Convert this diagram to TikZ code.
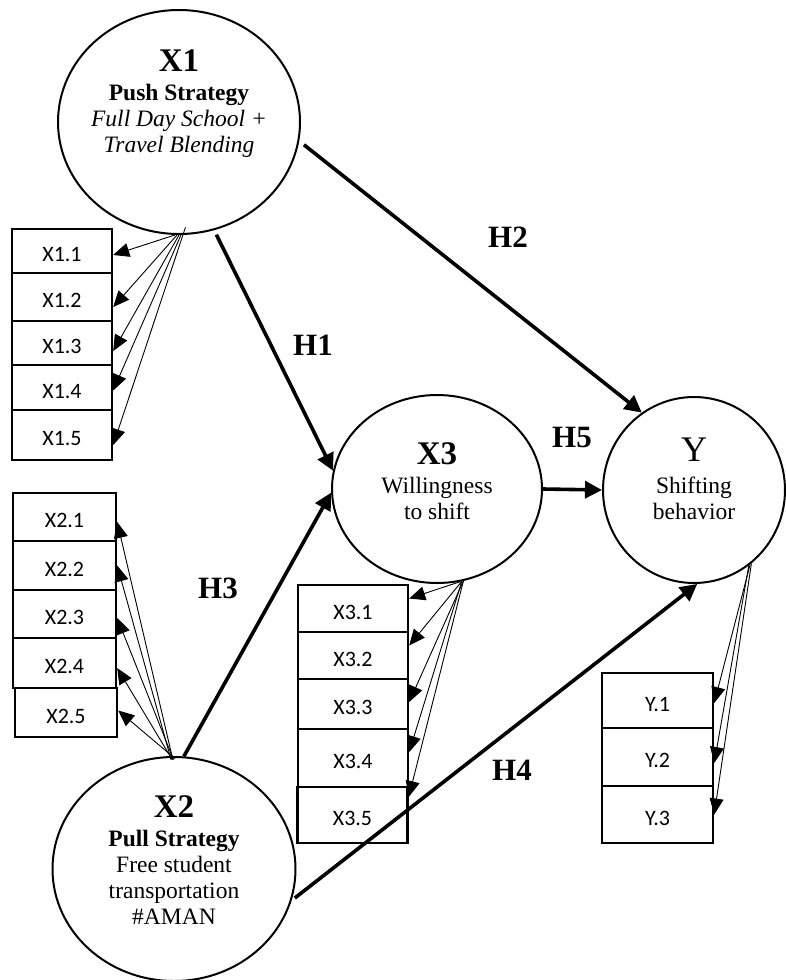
\documentclass[tikz,border=0pt]{standalone}
\usepackage{fontspec}
\setmainfont{Liberation Serif}
\newfontfamily\boxfont{Carlito}
\usetikzlibrary{shapes.geometric}
\usetikzlibrary{arrows.meta}
\tikzset{>={Triangle[width=17pt,length=17pt]}}
\tikzset{
  latent/.style={draw, ellipse, line width=2pt, inner sep=0pt},
  caption/.style={align=center, anchor=north, inner sep=0pt, font=\fontsize{23.5}{26}\selectfont},
  indicator/.style={draw, rectangle, line width=2.4pt, inner sep=0pt, text height=21pt, text depth=0pt, font=\boxfont\fontsize{22}{22}\selectfont},
  xonebox/.style={indicator, minimum width=100pt},
  xtwobox/.style={indicator, minimum width=103pt},
  xthreebox/.style={indicator, minimum width=110pt},
  ybox/.style={indicator, minimum width=111pt},
  loading/.style={draw, -{Triangle[width=14pt,length=16pt]}, line width=0.9pt},
  struct/.style={draw, ->, line width=3.6pt},
  hyp/.style={inner sep=0pt, font=\bfseries\fontsize{31}{31}\selectfont}
}

\begin{document}
\begin{tikzpicture}[x=1pt, y=-1pt]
\useasboundingbox (0,0) rectangle (786,980);
% latent variables
\node (X1) [latent, minimum width=242pt, minimum height=224pt] at (179,122) {};
\node (X2) [latent, minimum width=243pt, minimum height=224pt] at (174,869) {};
\node (X3) [latent, minimum width=210pt, minimum height=188pt] at (437,489) {};
\node (Y) [latent, minimum width=182pt, minimum height=186pt] at (694,490) {};
\node (X1t) [caption] at (179,50) {{\fontsize{33}{33}\selectfont\bfseries X1}\\[3pt] \textbf{Push Strategy}\\ \textit{Full Day School +}\\ \textit{Travel Blending}};
\node (X2t) [caption] at (174,795) {{\fontsize{33}{33}\selectfont\bfseries X2}\\[3pt] \textbf{Pull Strategy}\\ Free student\\ transportation\\ \#AMAN};
\node (X3t) [caption] at (437,442) {{\fontsize{33}{33}\selectfont\bfseries X3}\\[3pt] Willingness\\ to shift};
\node (Yt) [caption] at (694,438) {{\fontsize{36}{36}\selectfont Y}\\[6pt] Shifting\\ behavior};
% indicators
\node (X11) [xonebox, minimum height=44pt] at (62,251) {X1.1};
\node (X12) [xonebox, minimum height=48pt] at (62,297) {X1.2};
\node (X13) [xonebox, minimum height=44pt] at (62,343) {X1.3};
\node (X14) [xonebox, minimum height=45pt] at (62,387.5) {X1.4};
\node (X15) [xonebox, minimum height=50pt] at (62,435) {X1.5};
\node (X21) [xtwobox, minimum height=48pt] at (64.5,517) {X2.1};
\node (X22) [xtwobox, minimum height=49pt] at (64.5,565.5) {X2.2};
\node (X23) [xtwobox, minimum height=48pt] at (64.5,614) {X2.3};
\node (X24) [xtwobox, minimum height=50pt] at (64.5,663) {X2.4};
\node (X25) [xtwobox, minimum height=49pt, minimum width=102pt] at (66,712.5) {X2.5};
\node (X31) [xthreebox, minimum height=47pt] at (353,608.5) {X3.1};
\node (X32) [xthreebox, minimum height=47pt] at (353,655.5) {X3.2};
\node (X33) [xthreebox, minimum height=50pt] at (353,704) {X3.3};
\node (X34) [xthreebox, minimum height=58pt] at (353,758) {X3.4};
\node (X35) [xthreebox, minimum height=56pt] at (352.5,815) {X3.5};
\node (Y1) [ybox, minimum height=55pt] at (657.5,700.5) {Y.1};
\node (Y2) [ybox, minimum height=58pt] at (657.5,757) {Y.2};
\node (Y3) [ybox, minimum height=57pt] at (657.5,814.5) {Y.3};
% loadings
\path [loading] (X1.-92) -- ([yshift=-4pt]X11.east);
\path [loading] (X1.-91) -- ([yshift=-10pt]X12.east);
\path [loading] (X1.-90) -- ([yshift=-8pt]X13.east);
\path [loading] (X1.-89) -- ([yshift=-3pt]X14.east);
\path [loading, shorten <=-8pt] (X1.-88) -- ([yshift=-10pt]X15.east);
\path [loading, shorten <=-4pt] (X2.91) -- ([yshift=-5pt]X21.east);
\path [loading, shorten <=-4pt] (X2.92) -- (X22.east);
\path [loading, shorten <=-4pt] (X2.91) -- ([yshift=-4pt]X23.east);
\path [loading, shorten <=-4pt] (X2.92) -- ([yshift=-5pt]X24.east);
\path [loading, shorten <=-4pt] (X2.91) -- ([yshift=2pt]X25.east);
\path [loading] (X3.-76) -- ([yshift=10pt]X31.east);
\path [loading] (X3.-75) -- ([yshift=10pt]X32.east);
\path [loading] (X3.-74) -- ([yshift=2pt]X33.east);
\path [loading] (X3.-75) -- ([yshift=6pt]X34.east);
\path [loading] (X3.-74) -- ([yshift=18pt]X35.east);
\path [loading] (Y.-53) -- ([yshift=-2.5pt]Y1.east);
\path [loading] (Y.-54) -- ([yshift=-6pt]Y2.east);
\path [loading] (Y.-52) -- (Y3.east);
% hypotheses
\path [struct, shorten <=5pt] (X1.-72) -- (X3.170);
\path [struct, shorten <=6pt] (X1.-9) -- (Y.124);
\path [struct] (X2.85) -- (X3.182);
\path [struct, shorten <=4pt] (X2.-15) -- (Y.-88);
\path [struct] (X3.east) -- (Y.west);
\node (H1) [hyp] at (313,345) {H1};
\node (H2) [hyp] at (508,237) {H2};
\node (H3) [hyp] at (218,588) {H3};
\node (H4) [hyp] at (512,770) {H4};
\node (H5) [hyp] at (572,437) {H5};
\end{tikzpicture}
\end{document}
